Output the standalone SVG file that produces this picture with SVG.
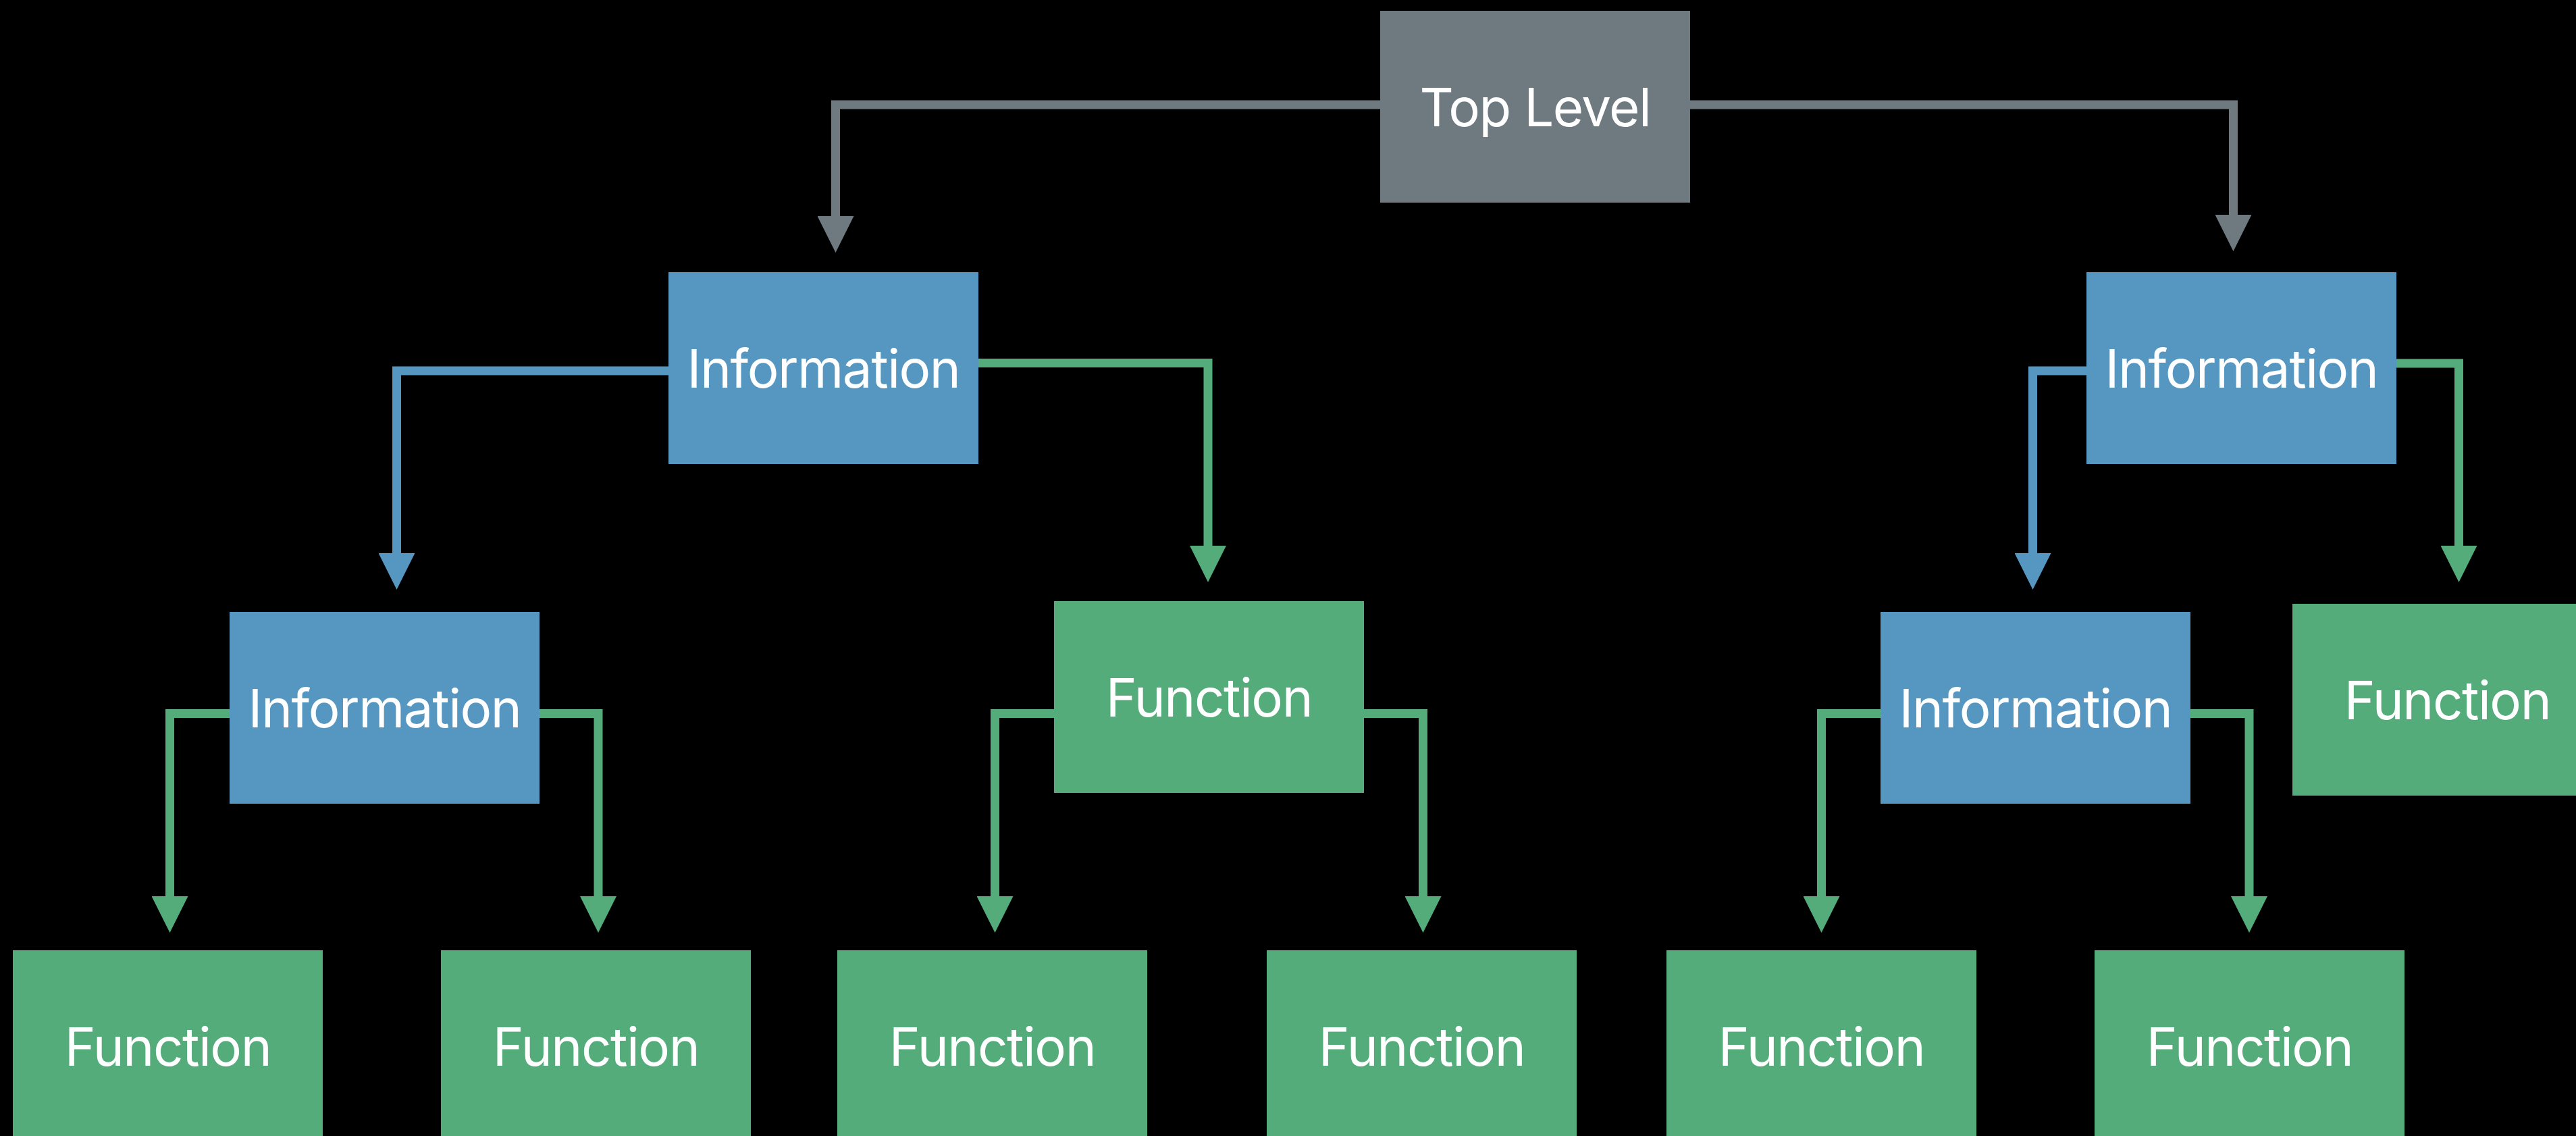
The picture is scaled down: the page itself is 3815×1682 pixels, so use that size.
<svg xmlns="http://www.w3.org/2000/svg" width="3815" height="1682" viewBox="0 0 3815 1682">
<style>
.grey{fill:#6e7980}
.blue{fill:#5597c1}
.green{fill:#55ac7b}
.lbl{font-family:Inter,"Liberation Sans",Arial,sans-serif;font-size:78px;letter-spacing:-1.5px;fill:#ffffff;text-anchor:middle}
.c{fill:none;stroke-width:13;stroke-linejoin:miter}
.cg{stroke:#6e7980}
.cb{stroke:#5597c1}
.cn{stroke:#55ac7b}
</style>
<defs>
<marker id="ag" markerUnits="userSpaceOnUse" markerWidth="54" markerHeight="54" viewBox="0 0 54 54" refX="0" refY="27" orient="auto"><path d="M0,0 L54,27 L0,54 Z" fill="#6e7980"/></marker>
<marker id="ab" markerUnits="userSpaceOnUse" markerWidth="54" markerHeight="54" viewBox="0 0 54 54" refX="0" refY="27" orient="auto"><path d="M0,0 L54,27 L0,54 Z" fill="#5597c1"/></marker>
<marker id="an" markerUnits="userSpaceOnUse" markerWidth="54" markerHeight="54" viewBox="0 0 54 54" refX="0" refY="27" orient="auto"><path d="M0,0 L54,27 L0,54 Z" fill="#55ac7b"/></marker>
</defs>
<rect width="3815" height="1682" fill="#000000"/>
<g id="connectors">
<path class="c cg" d="M2044,155 H1237.5 V320" marker-end="url(#ag)"/>
<path class="c cg" d="M2503,155 H3307.5 V318" marker-end="url(#ag)"/>
<path class="c cb" d="M990,549 H587.5 V819" marker-end="url(#ab)"/>
<path class="c cn" d="M1449,537.5 H1789 V808" marker-end="url(#an)"/>
<path class="c cb" d="M3090,549 H3010.5 V819" marker-end="url(#ab)"/>
<path class="c cn" d="M3549,538 H3641.5 V808" marker-end="url(#an)"/>
<path class="c cn" d="M340,1056.5 H251.5 V1327" marker-end="url(#an)"/>
<path class="c cn" d="M799,1056.5 H886 V1327" marker-end="url(#an)"/>
<path class="c cn" d="M1561,1056.5 H1473.5 V1327" marker-end="url(#an)"/>
<path class="c cn" d="M2020,1056.5 H2107.5 V1327" marker-end="url(#an)"/>
<path class="c cn" d="M2785,1056.5 H2697.5 V1327" marker-end="url(#an)"/>
<path class="c cn" d="M3244,1056.5 H3331 V1327" marker-end="url(#an)"/>
</g>
<g id="top"><rect class="grey" x="2044" y="16" width="459" height="284"/><text class="lbl" x="2273.5" y="187">Top Level</text></g>
<g id="info-1-left"><rect class="blue" x="990" y="403" width="459" height="284"/><text class="lbl" x="1219.5" y="574">Information</text></g>
<g id="info-1-right"><rect class="blue" x="3090" y="403" width="459" height="284"/><text class="lbl" x="3319.5" y="574">Information</text></g>
<g id="info-2-left"><rect class="blue" x="340" y="906" width="459" height="284"/><text class="lbl" x="569.5" y="1077">Information</text></g>
<g id="function-2-mid"><rect class="green" x="1561" y="890" width="459" height="284"/><text class="lbl" x="1790.5" y="1061">Function</text></g>
<g id="info-2-right"><rect class="blue" x="2785" y="906" width="459" height="284"/><text class="lbl" x="3014.5" y="1077">Information</text></g>
<g id="function-2-right"><rect class="green" x="3395" y="894" width="459" height="284"/><text class="lbl" x="3624.5" y="1065">Function</text></g>
<g id="function-3-1"><rect class="green" x="19" y="1407" width="459" height="284"/><text class="lbl" x="248.5" y="1578">Function</text></g>
<g id="function-3-2"><rect class="green" x="653" y="1407" width="459" height="284"/><text class="lbl" x="882.5" y="1578">Function</text></g>
<g id="function-3-3"><rect class="green" x="1240" y="1407" width="459" height="284"/><text class="lbl" x="1469.5" y="1578">Function</text></g>
<g id="function-3-4"><rect class="green" x="1876" y="1407" width="459" height="284"/><text class="lbl" x="2105.5" y="1578">Function</text></g>
<g id="function-3-5"><rect class="green" x="2468" y="1407" width="459" height="284"/><text class="lbl" x="2697.5" y="1578">Function</text></g>
<g id="function-3-6"><rect class="green" x="3102" y="1407" width="459" height="284"/><text class="lbl" x="3331.5" y="1578">Function</text></g>
</svg>
